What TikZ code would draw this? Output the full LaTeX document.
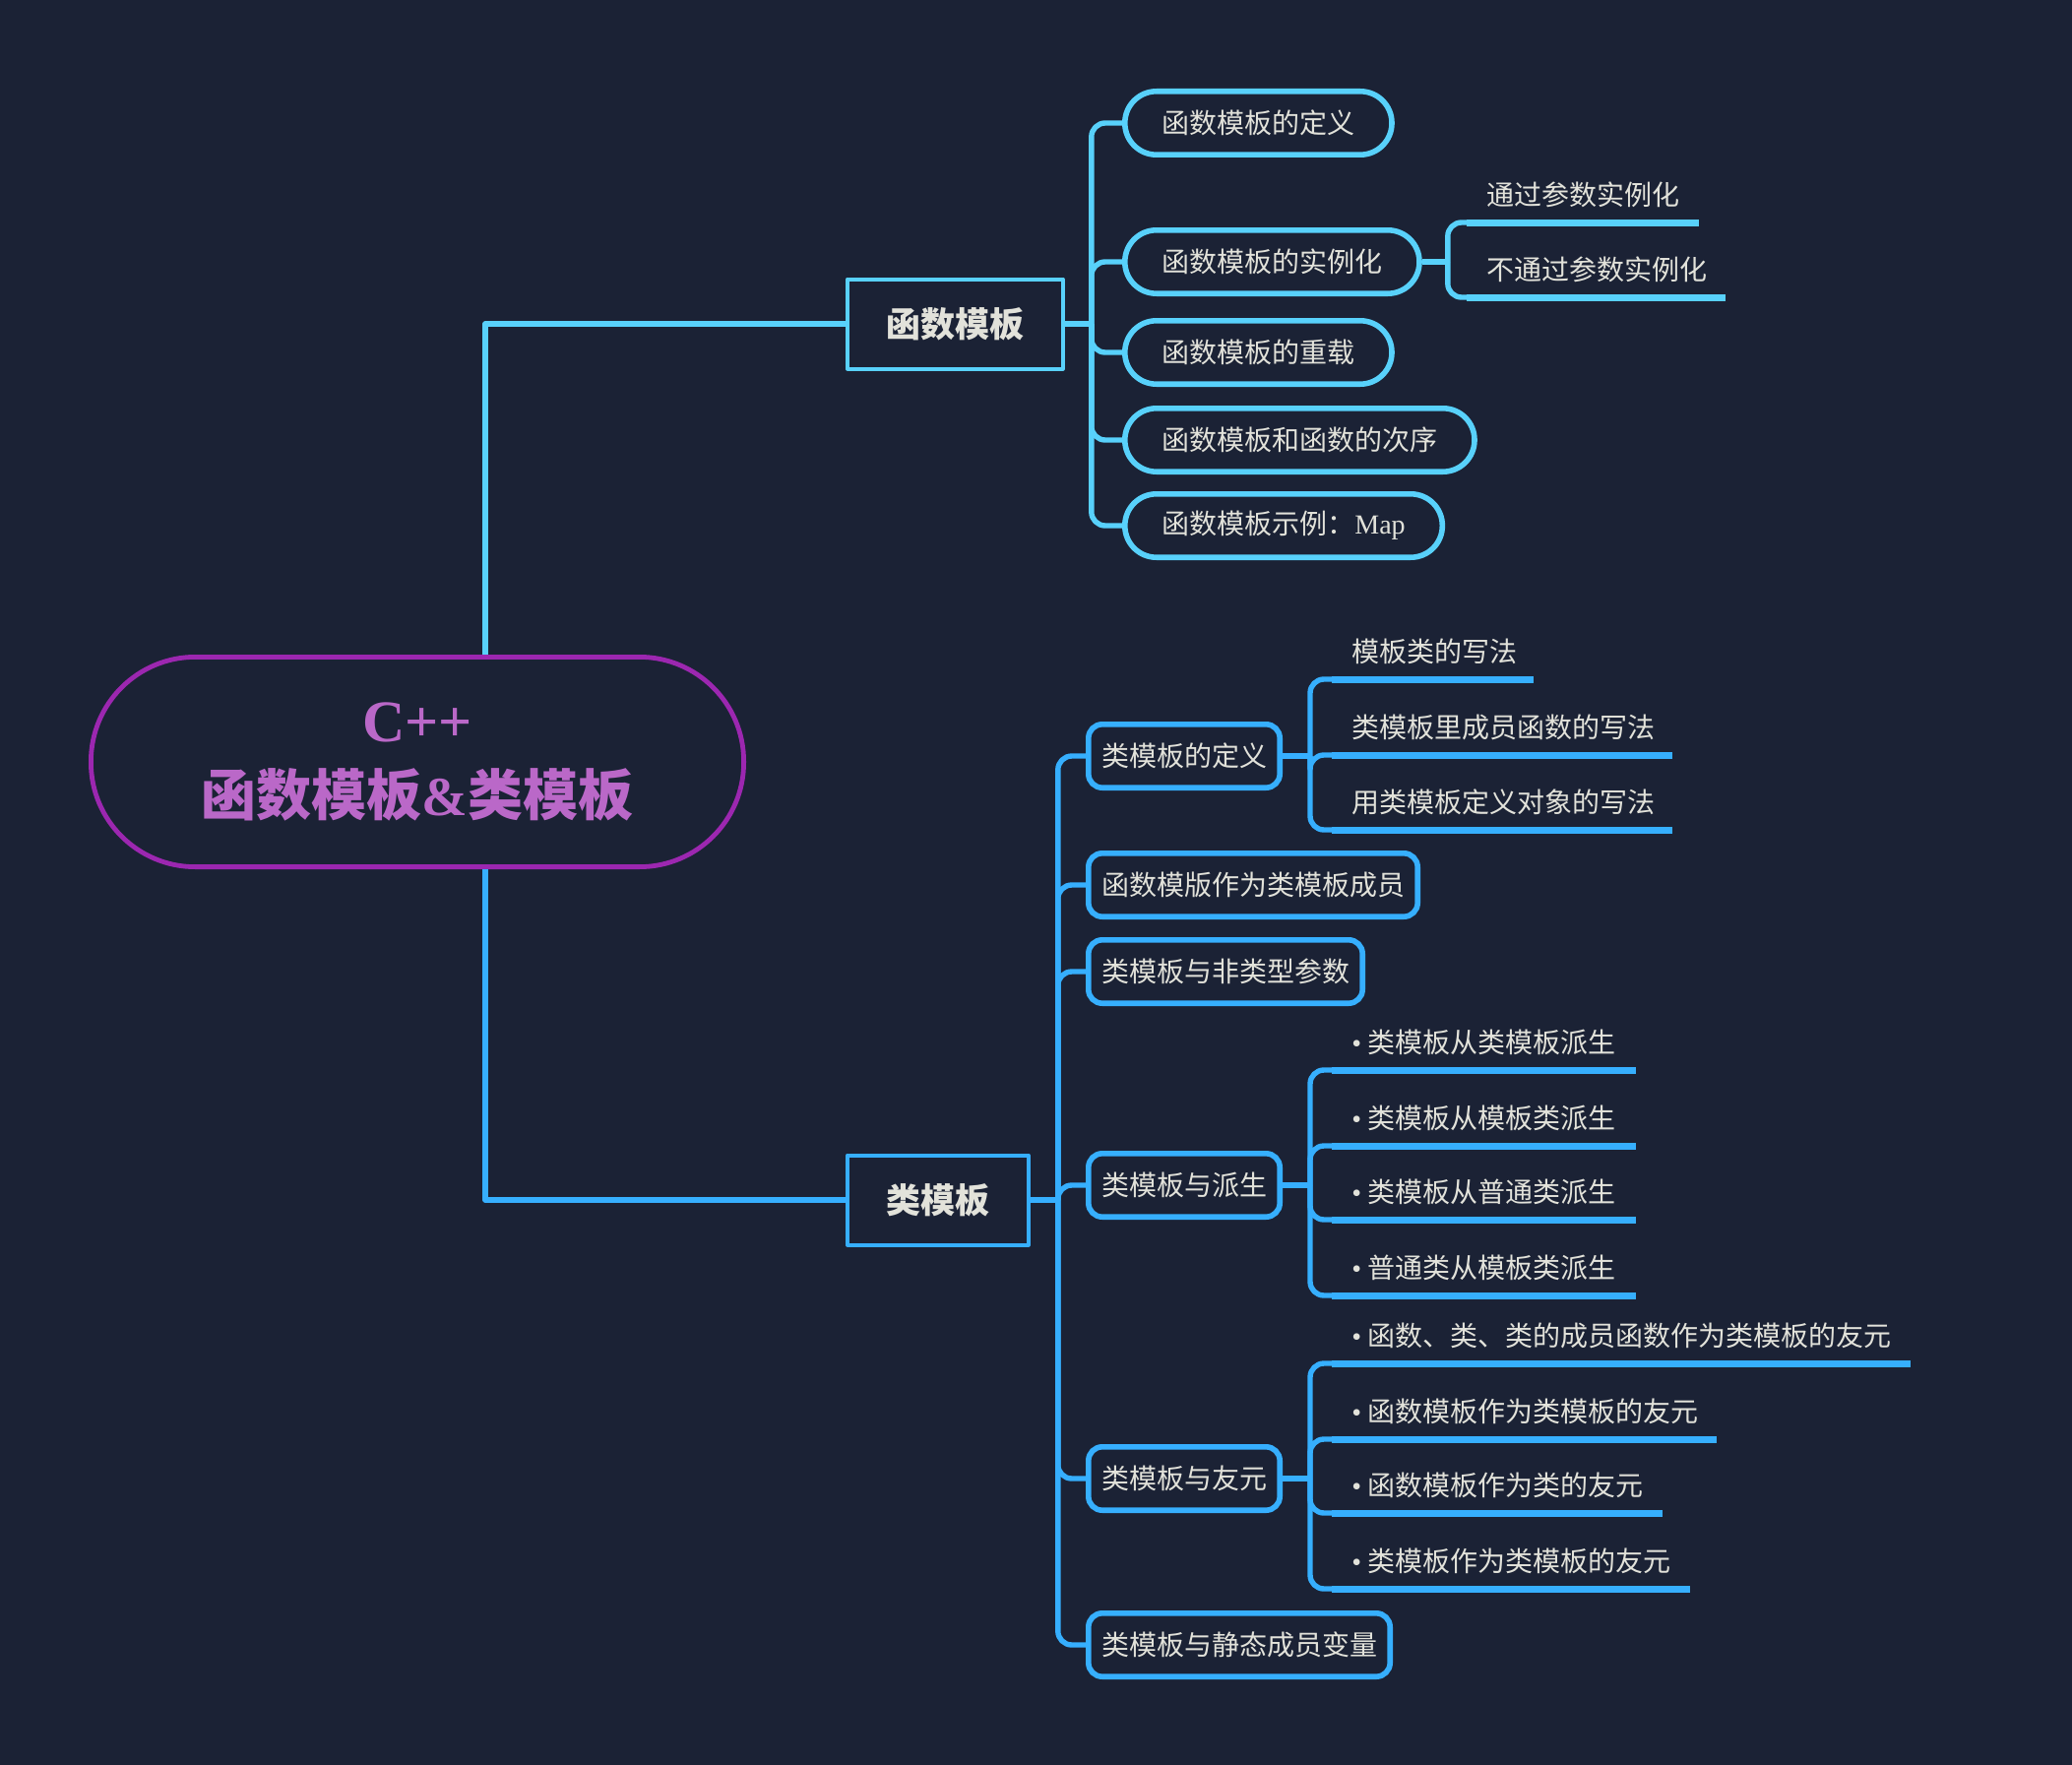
\documentclass[tikz,border=0pt]{standalone}
\usepackage{fontspec}
\setmainfont{Liberation Serif}
\newfontfamily\cjk{Noto Sans CJK SC}
\usetikzlibrary{positioning}
\definecolor{bg_col}{RGB}{27, 34, 53}
\definecolor{fn_col}{RGB}{88, 209, 251}
\definecolor{cls_col}{RGB}{54, 175, 254}
\definecolor{root_col}{RGB}{156, 39, 176}
\definecolor{root_txt}{RGB}{186, 104, 200}
\definecolor{txt_col}{RGB}{226, 226, 218}
\newcommand{\bul}{{\rmfamily •}\nobreak\hspace{3pt}}

\begin{document}
\begin{tikzpicture}[x=0.5pt, y=-0.5pt, line join=round,
    every node/.style={text=txt_col, font=\cjk\fontsize{14}{17}\selectfont},
    topic/.style={draw, line width=2pt, minimum height=45.5pt,
        inner xsep=19.7pt, anchor=west,
        font=\cjk\bfseries\fontsize{17.5}{20}\selectfont},
    pill/.style={draw=fn_col, line width=2.8pt, rounded corners=16pt,
        minimum height=32.2pt, inner xsep=18.8pt, anchor=west},
    cbox/.style={draw=cls_col, line width=2.8pt, rounded corners=7pt,
        minimum height=32.2pt, inner xsep=6.6pt, anchor=west},
    leaf/.style={anchor=south west, inner xsep=10pt, inner ysep=8.7pt,
        text depth=0pt, align=left},
    trunk/.style={line width=2.7pt},
    link/.style={line width=2.7pt, rounded corners=7pt},
    uline/.style={line width=3.5pt}]
  \useasboundingbox (0,0) rectangle (2105,1793);
  \fill[bg_col] (0,0) rectangle (2105,1793);

  % centre
  \node[draw=root_col, line width=2.4pt, rounded corners=53pt,
        minimum width=331.6pt, minimum height=106.6pt, align=center,
        text=root_txt, font=\rmfamily\bfseries\fontsize{28}{37.5}\selectfont]
    (root) at (424,774)
    {{\fontsize{30}{37.5}\selectfont C++}\\{\cjk 函数模板}\&{\cjk 类模板}};
  \coordinate (tr) at (493,774);

  % main branches
  \node[topic, draw=fn_col] (fn) at (859,329) {函数模板};
  \node[topic, draw=cls_col] (cl) at (859,1219) {类模板};

  \draw[trunk, fn_col] (tr |- root.north) |- (fn.west);
  \draw[trunk, cls_col] (tr |- root.south) |- (cl.west);

  % function template
  \node[pill] (f1) at (1140,125) {函数模板的定义};
  \node[pill] (f2) at (1140,266) {函数模板的实例化};
  \node[pill] (f3) at (1140,358) {函数模板的重载};
  \node[pill] (f4) at (1140,447) {函数模板和函数的次序};
  \node[pill] (f5) at (1140,534) {函数模板示例：{\rmfamily Map}};

  \coordinate[right=13.5pt of fn] (fj);
  \draw[link, fn_col] (fn.east) -- (fj);
  \draw[link, fn_col] (fj) |- (f1.west);
  \draw[link, fn_col] (fj) |- (f2.west);
  \draw[link, fn_col] (fj) |- (f3.west);
  \draw[link, fn_col] (fj) |- (f4.west);
  \draw[link, fn_col] (fj) |- (f5.west);

  \node[leaf, text width=97.5pt] (i1) at (1490,226) {通过参数实例化};
  \node[leaf, text width=111pt] (i2) at (1490,302) {不通过参数实例化};

  \coordinate[right=13pt of f2] (ij);
  \draw[link, fn_col] (f2.east) -- (ij);
  \draw[link, fn_col] (ij) |- (i1.south west);
  \draw[link, fn_col] (ij) |- (i2.south west);
  \draw[uline, fn_col] (i1.south west) -- (i1.south east);
  \draw[uline, fn_col] (i2.south west) -- (i2.south east);

  % class template
  \node[cbox] (c1) at (1103,768) {类模板的定义};
  \node[cbox] (c2) at (1103,899) {函数模版作为类模板成员};
  \node[cbox] (c3) at (1103,987) {类模板与非类型参数};
  \node[cbox] (c4) at (1103,1204) {类模板与派生};
  \node[cbox] (c5) at (1103,1502) {类模板与友元};
  \node[cbox] (c6) at (1103,1671) {类模板与静态成员变量};

  \coordinate[right=14pt of cl] (cj);
  \draw[link, cls_col] (cl.east) -- (cj);
  \draw[link, cls_col] (cj) |- (c1.west);
  \draw[link, cls_col] (cj) |- (c2.west);
  \draw[link, cls_col] (cj) |- (c3.west);
  \draw[link, cls_col] (cj) |- (c4.west);
  \draw[link, cls_col] (cj) |- (c5.west);
  \draw[link, cls_col] (cj) |- (c6.west);

  % definition
  \node[leaf, text width=82pt] (d1) at (1353,690) {模板类的写法};
  \node[leaf, text width=152.5pt] (d2) at (1353,767) {类模板里成员函数的写法};
  \node[leaf, text width=152.5pt] (d3) at (1353,843) {用类模板定义对象的写法};

  \coordinate[right=14pt of c1] (dj);
  \draw[link, cls_col] (c1.east) -- (dj);
  \draw[link, cls_col] (dj) |- (d1.south west);
  \draw[link, cls_col] (dj) |- (d2.south west);
  \draw[link, cls_col] (dj) |- (d3.south west);
  \draw[uline, cls_col] (d1.south west) -- (d1.south east);
  \draw[uline, cls_col] (d2.south west) -- (d2.south east);
  \draw[uline, cls_col] (d3.south west) -- (d3.south east);

  % derivation
  \node[leaf, text width=134pt] (p1) at (1353,1087) {\bul 类模板从类模板派生};
  \node[leaf, text width=134pt] (p2) at (1353,1164) {\bul 类模板从模板类派生};
  \node[leaf, text width=134pt] (p3) at (1353,1239) {\bul 类模板从普通类派生};
  \node[leaf, text width=134pt] (p4) at (1353,1316) {\bul 普通类从模板类派生};

  \coordinate[right=14pt of c4] (pj);
  \draw[link, cls_col] (c4.east) -- (pj);
  \draw[link, cls_col] (pj) |- (p1.south west);
  \draw[link, cls_col] (pj) |- (p2.south west);
  \draw[link, cls_col] (pj) |- (p3.south west);
  \draw[link, cls_col] (pj) |- (p4.south west);
  \draw[uline, cls_col] (p1.south west) -- (p1.south east);
  \draw[uline, cls_col] (p2.south west) -- (p2.south east);
  \draw[uline, cls_col] (p3.south west) -- (p3.south east);
  \draw[uline, cls_col] (p4.south west) -- (p4.south east);

  % friends
  \node[leaf, text width=273.5pt] (q1) at (1353,1385)
    {\bul 函数、类、类的成员函数作为类模板的友元};
  \node[leaf, text width=175pt] (q2) at (1353,1462) {\bul 函数模板作为类模板的友元};
  \node[leaf, text width=147.5pt] (q3) at (1353,1537) {\bul 函数模板作为类的友元};
  \node[leaf, text width=161.5pt] (q4) at (1353,1614) {\bul 类模板作为类模板的友元};

  \coordinate[right=14pt of c5] (qj);
  \draw[link, cls_col] (c5.east) -- (qj);
  \draw[link, cls_col] (qj) |- (q1.south west);
  \draw[link, cls_col] (qj) |- (q2.south west);
  \draw[link, cls_col] (qj) |- (q3.south west);
  \draw[link, cls_col] (qj) |- (q4.south west);
  \draw[uline, cls_col] (q1.south west) -- (q1.south east);
  \draw[uline, cls_col] (q2.south west) -- (q2.south east);
  \draw[uline, cls_col] (q3.south west) -- (q3.south east);
  \draw[uline, cls_col] (q4.south west) -- (q4.south east);
\end{tikzpicture}
\end{document}
